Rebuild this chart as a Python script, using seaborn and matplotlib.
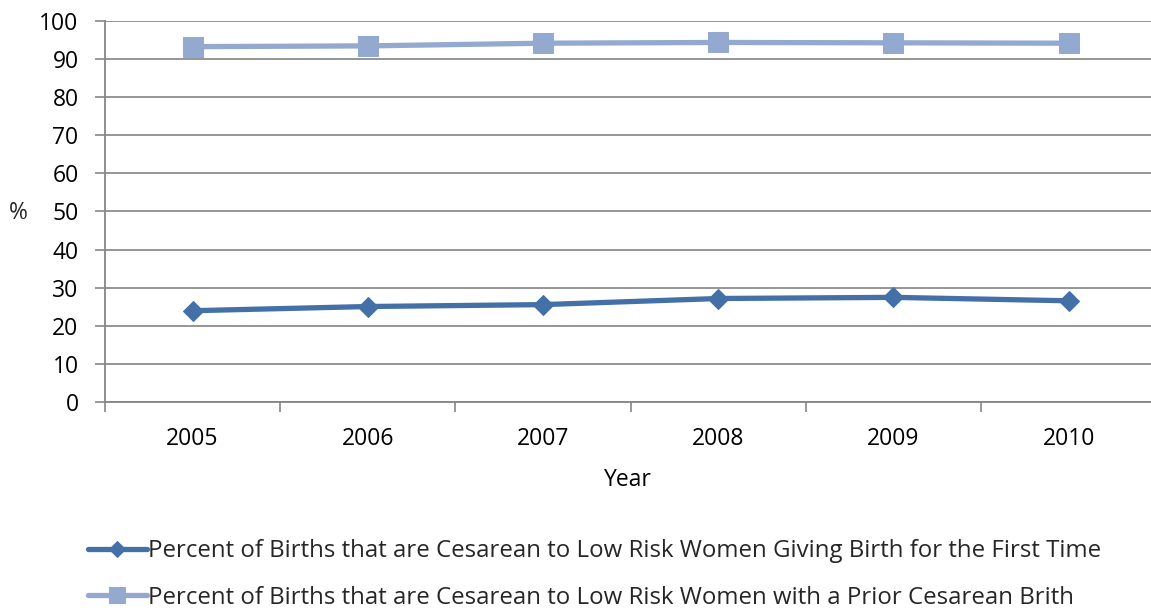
import matplotlib
matplotlib.use("Agg")
import matplotlib.pyplot as plt
import seaborn as sns
import pandas as pd
import numpy as np
from matplotlib.ticker import MultipleLocator, FixedLocator

years = ["2005", "2006", "2007", "2008", "2009", "2010"]
first_time = [24.0, 25.1, 25.6, 27.2, 27.5, 26.6]
prior_cesarean = [93.2, 93.4, 94.1, 94.3, 94.2, 94.1]
series_names = [
    "Percent of Births that are Cesarean to Low Risk Women Giving Birth for the First Time",
    "Percent of Births that are Cesarean to Low Risk Women with a Prior Cesarean Brith",
]

sns.set_theme(style="white")
plt.rcParams['font.family'] = ['Open Sans', 'DejaVu Sans']
FS = 16.5
LFS = 17.3

df = pd.DataFrame({
    "pos": list(range(len(years))) * 2,
    "value": first_time + prior_cesarean,
    "series": [series_names[0]] * len(years) + [series_names[1]] * len(years),
})

fig = plt.figure(figsize=(11.51, 6.11), dpi=100)
ax = fig.add_axes([105 / 1151, 1 - 402.3 / 611, 1 - 105 / 1151, (402.3 - 20.7) / 611])

colors = {series_names[0]: "#4470A8", series_names[1]: "#93A9CF"}
markers = {series_names[0]: "D", series_names[1]: "s"}
sizes_ms = {series_names[0]: 10, series_names[1]: 14}

for name in series_names:
    sub = df[df["series"] == name]
    sns.lineplot(data=sub, x="pos", y="value", ax=ax, color=colors[name],
                 marker=markers[name], markersize=sizes_ms[name],
                 markeredgecolor=colors[name], linewidth=3.8, label=name,
                 legend=False, zorder=3)

ax.set_ylim(0, 100)
ax.set_xlim(-0.5, 5.47)
ax.yaxis.set_major_locator(MultipleLocator(10))
ax.set_xticks(range(len(years)))
ax.set_xticklabels(years)
ax.xaxis.set_minor_locator(FixedLocator(np.arange(-0.5, 6.0, 1.0)))
ax.tick_params(axis="x", which="major", length=0, pad=18, labelsize=FS, colors="black")
ax.tick_params(axis="x", which="minor", length=7, width=1.2, color="#868686", direction="out", bottom=True)
ax.tick_params(axis="y", which="major", length=7, width=1.2, color="#868686", direction="out", left=True,
               labelsize=FS, pad=12, labelcolor="black")

ax.grid(axis="y", color="#8c8c8c", linewidth=1.3)
ax.grid(axis="x", visible=False)
for s in ["top", "right"]:
    ax.spines[s].set_visible(False)
for s in ["left", "bottom"]:
    ax.spines[s].set_color("#868686")
    ax.spines[s].set_linewidth(1.3)

ax.set_xlabel("Year", fontsize=FS, labelpad=12, color="black")
ax.set_ylabel("")
fig.text(18 / 1151, 1 - 213 / 611, "%", fontsize=FS, ha="center", va="center")

handles, labels = ax.get_legend_handles_labels()
leg = fig.legend(handles, labels, loc="upper left", bbox_to_anchor=(88 / 1151, 1 - 539 / 611),
                 frameon=False, fontsize=LFS, handlelength=2.45, handletextpad=0.05,
                 labelspacing=0.95, borderaxespad=0, borderpad=0)
for h in leg.legend_handles:
    h.set_markersize(h.get_markersize() * 0.85)

fig.savefig("out.png", dpi=100)
